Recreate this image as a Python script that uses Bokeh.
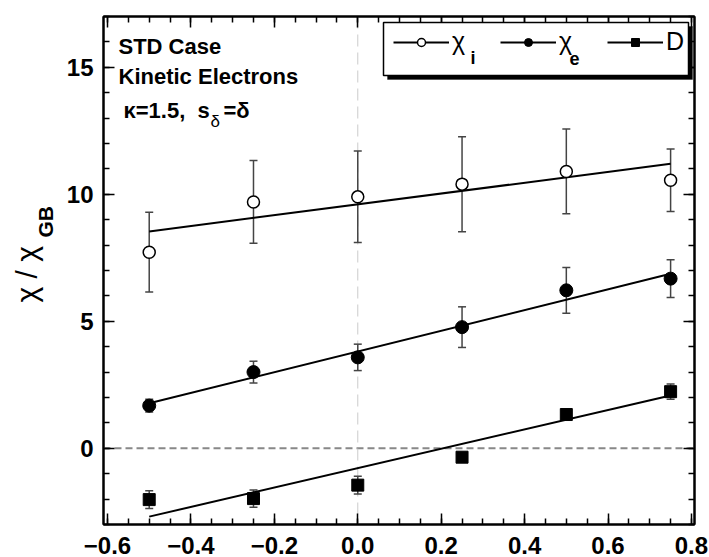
import numpy as np
from bokeh.plotting import figure
from bokeh.layouts import row
from bokeh.models import (ColumnDataSource, Whisker, TeeHead, Span, Label, Legend, LegendItem,
                          FixedTicker, LinearAxis, CustomJSTickFormatter, BoxAnnotation, Range1d)
from bokeh.embed import file_html
from bokeh.resources import INLINE

# ---- data ----
delta = [-0.5, -0.25, 0.0, 0.25, 0.5, 0.75]
chi_i = [7.72, 9.70, 9.90, 10.40, 10.90, 10.55]
chi_i_err = [1.57, 1.63, 1.80, 1.87, 1.67, 1.23]
chi_e = [1.68, 3.00, 3.58, 4.77, 6.22, 6.68]
chi_e_err = [0.25, 0.43, 0.52, 0.80, 0.90, 0.74]
d_vals = [-2.02, -1.98, -1.45, -0.35, 1.33, 2.23]
d_err = [0.35, 0.34, 0.35, 0.15, 0.15, 0.30]
fit_x = [-0.5, 0.75]
fit_chi_i = [8.54, 11.20]
fit_chi_e = [1.77, 6.87]
fit_d = [-2.69, 2.08]
x_ticks = [-0.6, -0.4, -0.2, 0.0, 0.2, 0.4, 0.6, 0.8]
y_ticks = [0, 5, 10, 15]
x_minor = [round(-0.6 + 0.05 * k, 2) for k in range(29)]
y_minor = list(range(-3, 18))

FONT = "Liberation Sans"

p = figure(width=649, height=557, output_backend="svg", toolbar_location=None,
           x_range=Range1d(-0.6096, 0.8073), y_range=Range1d(-3.0, 17.0),
           min_border_left=43, min_border_right=15, min_border_top=16, min_border_bottom=33)
p.grid.visible = False
p.outline_line_color = "black"
p.outline_line_width = 2

xt = FixedTicker(ticks=x_ticks, minor_ticks=x_minor)
yt = FixedTicker(ticks=y_ticks, minor_ticks=y_minor)


def style_axis(ax, ticker, show_labels):
    ax.ticker = ticker
    ax.axis_line_width = 2
    ax.major_tick_in = 11
    ax.major_tick_out = 0
    ax.minor_tick_in = 6
    ax.minor_tick_out = 0
    ax.major_tick_line_width = 1.5
    ax.minor_tick_line_width = 1.5
    ax.major_label_text_font = FONT
    ax.major_label_text_font_style = "bold"
    ax.major_label_text_color = "black"
    ax.major_label_text_font_size = "24px"
    if not show_labels:
        ax.formatter = CustomJSTickFormatter(code="return '';")
        ax.major_label_standoff = 0


style_axis(p.xaxis[0], xt, True)
style_axis(p.yaxis[0], yt, True)
p.xaxis[0].major_label_standoff = 12
p.xaxis[0].major_label_text_line_height = 0.7
p.xaxis[0].formatter = CustomJSTickFormatter(code="return tick.toFixed(1).replace('-', '\u2212');")
p.yaxis[0].major_label_standoff = 10
p.yaxis[0].formatter = CustomJSTickFormatter(code="return tick.toFixed(0);")

top_ax = LinearAxis()
style_axis(top_ax, xt, False)
p.add_layout(top_ax, "above")
right_ax = LinearAxis()
style_axis(right_ax, yt, False)
p.add_layout(right_ax, "right")

# reference lines
p.add_layout(Span(location=0, dimension="width", line_color="#888888", line_dash="7 4",
                  line_width=2, level="underlay"))
p.add_layout(Span(location=0, dimension="height", line_color="#cccccc", line_dash="12 6",
                  line_width=1, level="underlay"))


def add_errors(vals, errs):
    src = ColumnDataSource(dict(x=delta, up=[v + e for v, e in zip(vals, errs)],
                                lo=[v - e for v, e in zip(vals, errs)]))
    w = Whisker(source=src, base="x", upper="up", lower="lo",
                line_color="#444444", line_width=1.5, level="underlay",
                upper_head=TeeHead(size=8, line_color="#444444", line_width=1.5),
                lower_head=TeeHead(size=8, line_color="#444444", line_width=1.5))
    p.add_layout(w)


add_errors(chi_i, chi_i_err)
add_errors(chi_e, chi_e_err)
add_errors(d_vals, d_err)

l1 = p.line(fit_x, fit_chi_i, line_color="black", line_width=2)
l2 = p.line(fit_x, fit_chi_e, line_color="black", line_width=2)
l3 = p.line(fit_x, fit_d, line_color="black", line_width=2)

s1 = p.scatter(delta, chi_i, marker="circle", size=12, fill_color="white",
               line_color="black", line_width=1.5)
s2 = p.scatter(delta, chi_e, marker="circle", size=13, fill_color="black", line_color="black")
s3 = p.scatter(delta, d_vals, marker="square", size=12, fill_color="black", line_color="black")

# legend box with shadow
p.add_layout(BoxAnnotation(left=284, right=589, top=498, bottom=445,
                           left_units="screen", right_units="screen",
                           top_units="screen", bottom_units="screen",
                           fill_color="black", fill_alpha=1, line_color="black"))
p.add_layout(BoxAnnotation(left=280, right=585, top=502, bottom=449,
                           left_units="screen", right_units="screen",
                           top_units="screen", bottom_units="screen",
                           fill_color="white", fill_alpha=1, line_color="black",
                           line_width=1.5, line_alpha=1))

legend = Legend(items=[LegendItem(label="χ", renderers=[l1, s1]),
                       LegendItem(label="χ", renderers=[l2, s2]),
                       LegendItem(label="D", renderers=[l3, s3])],
                orientation="horizontal", location=(290, 468),
                border_line_color=None, background_fill_alpha=0,
                padding=0, margin=0, spacing=28, glyph_width=56, glyph_height=20,
                label_standoff=3, label_height=20, label_text_color="black",
                label_text_font=FONT, label_text_font_size="25px")
p.add_layout(legend)


def add_text(target, txt, xx, yy, size, bold=True, angle=0.0):
    target.add_layout(Label(x=xx, y=yy, x_units="screen", y_units="screen", text=txt,
                            angle=angle, text_font=FONT,
                            text_font_style="bold" if bold else "normal",
                            text_font_size=f"{size}px", text_color="black",
                            text_baseline="middle", text_align="left"))


# legend subscripts
add_text(p, "i", 367, 467, 18)
add_text(p, "e", 466, 466, 18)

# annotation texts (anchors at the middle of each text line)
add_text(p, "STD Case", 15, 478, 22)
add_text(p, "Kinetic Electrons", 15, 448, 22)
add_text(p, "κ=1.5,", 20, 414, 22)
add_text(p, "s", 94, 414, 22)
add_text(p, "δ", 107, 403, 17, bold=False)
add_text(p, "=δ", 120, 414, 22)

# y axis label, in a narrow figure at the left
yfig = figure(width=60, height=557, output_backend="svg", toolbar_location=None,
              x_range=Range1d(0, 60), y_range=Range1d(0, 557),
              x_axis_type=None, y_axis_type=None, min_border=0,
              min_border_top=16, min_border_bottom=33)
yfig.grid.visible = False
yfig.outline_line_color = None
add_text(yfig, "χ / χ", 26, 222, 30, bold=False, angle=np.pi / 2)
add_text(yfig, "GB", 45, 287, 21, angle=np.pi / 2)

layout = row(yfig, p)
open("out.html", "w").write(file_html(layout, INLINE))
